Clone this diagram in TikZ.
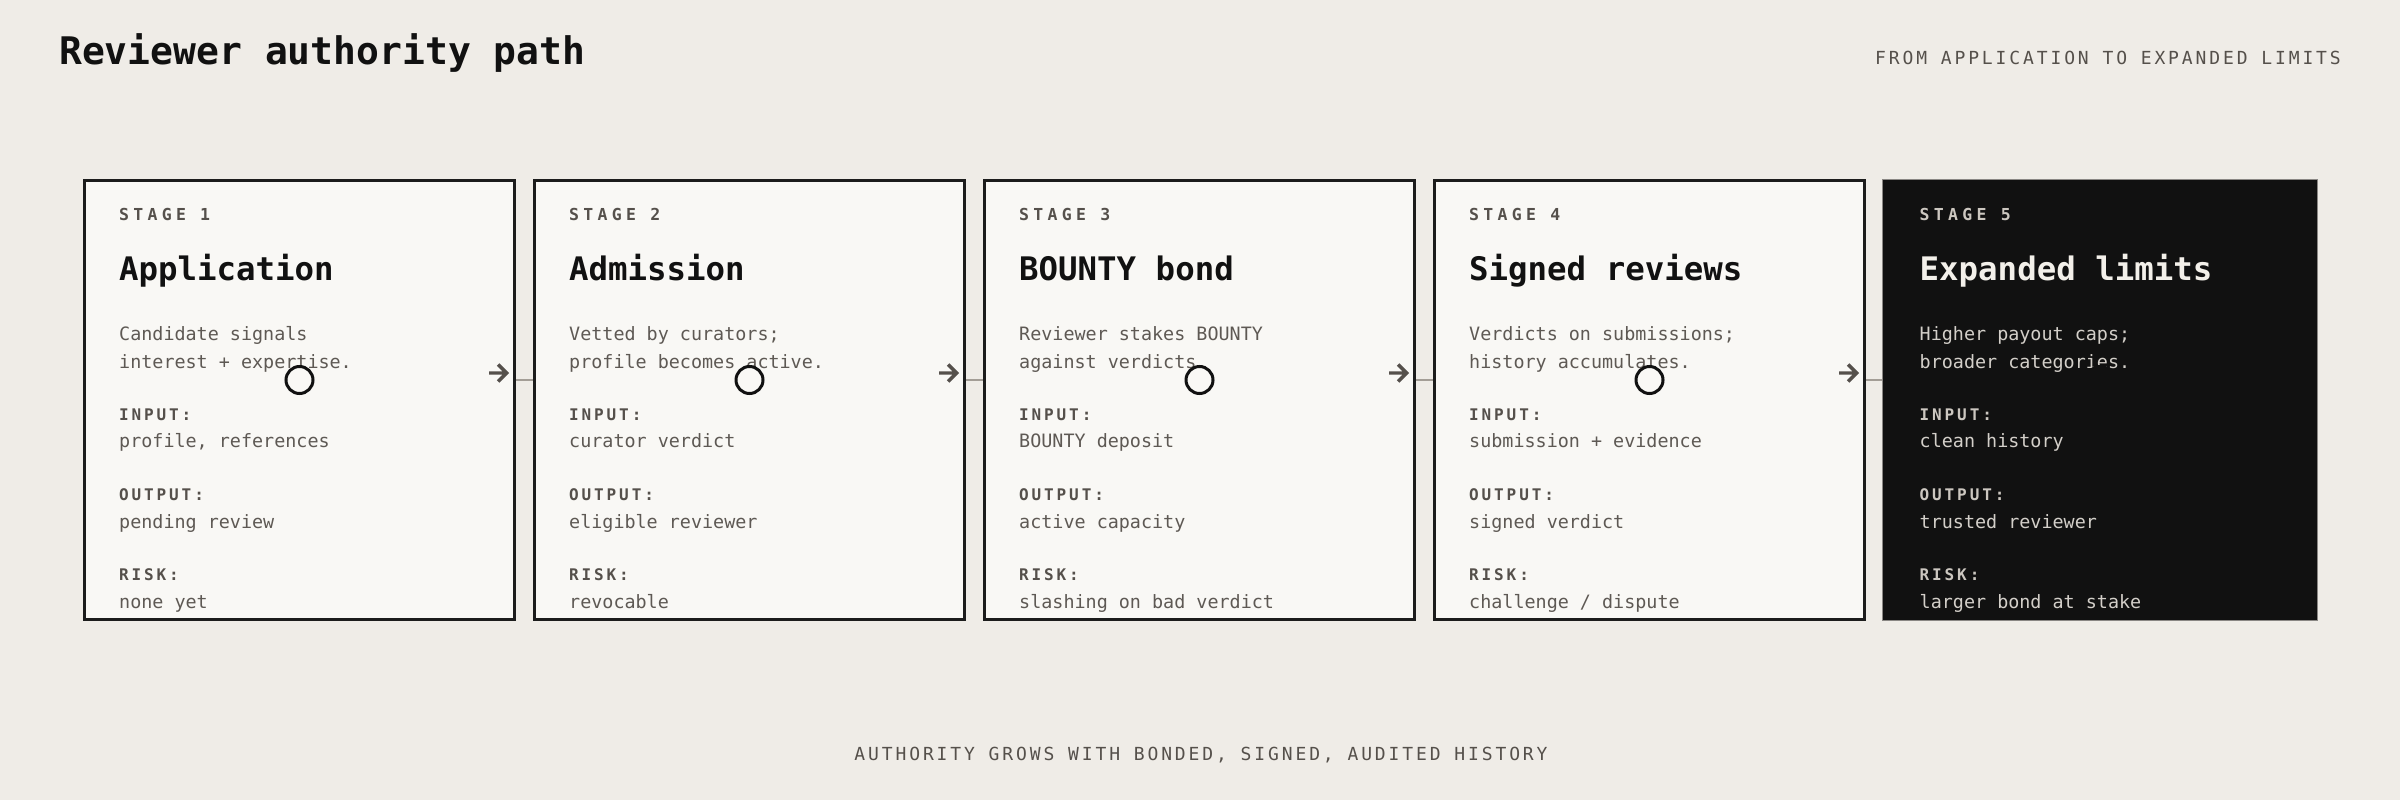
\documentclass[tikz,border=0pt]{standalone}
\usepackage{fontspec}
\setmonofont{DejaVu Sans Mono}
\usepackage{tikz}
\usetikzlibrary{positioning}

\definecolor{paperbg}{HTML}{EFECE7}
\definecolor{cardfill}{HTML}{F9F8F5}
\definecolor{rule}{HTML}{1C1C1C}
\definecolor{inkdark}{HTML}{111111}
\definecolor{muted}{HTML}{55504B}
\definecolor{bodygray}{HTML}{5E5954}
\definecolor{linkgray}{HTML}{A39D96}
\definecolor{nightfill}{HTML}{111111}
\definecolor{nightedge}{HTML}{8A8784}
\definecolor{nightink}{HTML}{F3F0EA}
\definecolor{nightmuted}{HTML}{CCC7C0}
\definecolor{nightbody}{HTML}{D3CFC9}

\begin{document}
\begin{tikzpicture}[x=1pt, y=-1pt,
    card/.style    = {draw=rule, fill=cardfill, line width=3pt, inner sep=0pt,
                      minimum width=430pt, minimum height=439pt},
    ring/.style    = {circle, draw=inkdark, fill=cardfill, line width=3pt,
                      inner sep=0pt, minimum size=27pt},
    stage/.style   = {anchor=base west, inner sep=0pt, text=muted,
                      font=\ttfamily\bfseries\fontsize{16.5}{16.5}\selectfont\addfontfeature{LetterSpace=26}},
    head/.style    = {anchor=base west, inner sep=0pt, text=inkdark,
                      font=\ttfamily\bfseries\fontsize{32.4}{32.4}\selectfont},
    body/.style    = {anchor=base west, inner sep=0pt, text=bodygray,
                      font=\ttfamily\fontsize{18.4}{18.4}\selectfont},
    field/.style   = {anchor=base west, inner sep=0pt, text=muted,
                      font=\ttfamily\bfseries\fontsize{16}{16}\selectfont\addfontfeature{LetterSpace=18}},
    caption/.style = {inner sep=0pt, text=muted,
                      font=\ttfamily\fontsize{18}{18}\selectfont\addfontfeature{LetterSpace=16}},
    link/.style    = {draw=linkgray, line width=2.5pt},
    pointer/.style = {draw=muted, line width=3.4pt, line join=miter},
    paper/.style   = {},
    night/.style   = {card/.append style={fill=nightfill, draw=nightedge, line width=1.2pt,
                                          minimum width=435pt, minimum height=441pt},
                      ring/.append style={fill=nightfill, draw=nightfill},
                      stage/.append style={text=nightmuted},
                      head/.append style={text=nightink},
                      body/.append style={text=nightbody},
                      field/.append style={text=nightmuted}}]

    \fill[paperbg] (0,0) rectangle (2400,800);
    \useasboundingbox (0,0) rectangle (2400,800);

    % Header and footer
    \node [anchor=base west, inner sep=0pt, text=inkdark,
           font=\ttfamily\bfseries\fontsize{38}{38}\selectfont] (title) at (59,65) {Reviewer authority path};
    \node [caption, anchor=base east] (subtitle) at (2341,65) {FROM APPLICATION TO EXPANDED LIMITS};
    \node [caption, anchor=base] (footer) at (1201,760) {AUTHORITY GROWS WITH BONDED, SIGNED, AUDITED HISTORY};

    % Cards
    \foreach \n/\x/\tone/\ttl/\da/\db/\inp/\outp/\risk in {
        1/299.5/paper/Application/Candidate signals/interest + expertise./{profile, references}/pending review/none yet,
        2/749.5/paper/Admission/Vetted by curators;/profile becomes active./curator verdict/eligible reviewer/revocable,
        3/1199.5/paper/BOUNTY bond/Reviewer stakes BOUNTY/against verdicts./BOUNTY deposit/active capacity/slashing on bad verdict,
        4/1649.5/paper/Signed reviews/Verdicts on submissions;/history accumulates./submission + evidence/signed verdict/{challenge / dispute},
        5/2100/night/Expanded limits/Higher payout caps;/broader categories./clean history/trusted reviewer/larger bond at stake}
    {
        \begin{scope}[\tone]
        \node [card] (b\n) at (\x,400) {};
        \node [stage] (s\n) at (\x-180.5,220) {STAGE \n};
        \node [head] (h\n) at (\x-180.5,280) {\ttl};
        \node [body] (da\n) at (\x-180.5,340) {\da};
        \node [body] (db\n) at (\x-180.5,368) {\db};
        \node [field] (fi\n) at (\x-180.5,420) {INPUT:};
        \node [body] (vi\n) at (\x-180.5,447) {\inp};
        \node [field] (fo\n) at (\x-180.5,500) {OUTPUT:};
        \node [body] (vo\n) at (\x-180.5,528) {\outp};
        \node [field] (fr\n) at (\x-180.5,580) {RISK:};
        \node [body] (vr\n) at (\x-180.5,608) {\risk};
        \node [ring] (c\n) at (\x,380) {};
        \end{scope}
    }

    % Links
    \foreach \n [count=\m from 2] in {1,...,4} {
        \draw [link] (b\n.east |- c\n) -- (b\m.west |- c\n);
        \coordinate (t\n) at ([xshift=-9.4pt, yshift=7pt]b\n.east |- c\n);
        \draw [pointer] ([xshift=-17.6pt]t\n) -- (t\n)
              ([shift={(-8.5pt,8.5pt)}]t\n) -- (t\n) -- ([shift={(-8.5pt,-8.5pt)}]t\n);
    }
\end{tikzpicture}
\end{document}
